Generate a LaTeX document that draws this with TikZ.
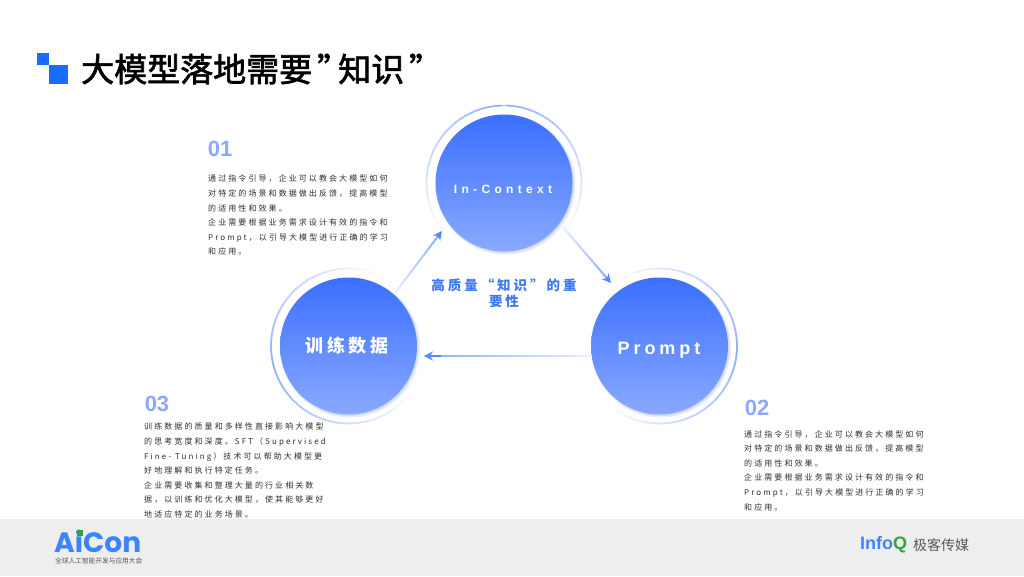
\documentclass[tikz,border=0pt]{standalone}
\usepackage{fontspec}
\usetikzlibrary{arrows.meta,calc}
\setmainfont{Liberation Sans}
\newfontfamily\cjk[LetterSpace=26]{Noto Sans CJK SC}
\newfontfamily\cjkwide[LetterSpace=22]{Noto Sans CJK SC}
\newfontfamily\cjktitle[FakeBold=2]{Noto Sans CJK SC}
\newfontfamily\cjkplain{Noto Sans CJK SC}
\newfontfamily\latinwide[LetterSpace=36]{Liberation Sans}
\newfontfamily\latinmid[LetterSpace=22]{Liberation Sans}
\newfontfamily\logofont{Poppins}
\definecolor{squareblue}{HTML}{1A6EFF}
\definecolor{topblue}{HTML}{3A6FFF}
\definecolor{lowblue}{HTML}{8AA9FF}
\definecolor{ringblue}{HTML}{8FB0FF}
\definecolor{glowblue}{HTML}{C4D3F5}
\definecolor{numblue}{HTML}{8AA9FF}
\definecolor{arrowblue}{HTML}{3E78F5}
\definecolor{palearrow}{HTML}{E6EEFF}
\definecolor{bodygrey}{HTML}{303030}
\definecolor{bandgrey}{HTML}{EEEEEE}
\definecolor{logogreen}{HTML}{2EA53C}
\tikzset{
  ball/.style={circle,minimum size=137pt,inner sep=0pt,top color=topblue,bottom color=lowblue,text=white},
  number/.style={text=numblue,font=\fontsize{22}{22}\selectfont\bfseries,inner sep=0pt},
  bodytext/.style={anchor=north west,align=left,inner sep=0pt,text=bodygrey,font=\fontsize{8}{14.6}\selectfont\cjk}
}
\newcommand{\fadearrow}[2]{
  \foreach \k in {0,5,...,85}{
    \pgfmathsetmacro{\ka}{\k/100}
    \pgfmathsetmacro{\kb}{(\k+6)/100}
    \pgfmathsetmacro{\kc}{\k*1.1}
    \draw[line width=2pt,ringblue!\kc!palearrow] ($(#1)!\ka!(#2)$) -- ($(#1)!\kb!(#2)$);
  }
  \draw[line width=2pt,arrowblue!70!ringblue,-{Stealth[length=9pt,width=9pt]}] ($(#1)!0.9!(#2)$) -- (#2);
}
\begin{document}
\begin{tikzpicture}[x=1pt,y=-1pt]
  \useasboundingbox (0,0) rectangle (1024,576);
  \fill[white] (0,0) rectangle (1024,576);
  \fill[bandgrey] (0,519) rectangle (1024,576);
  \fill[squareblue] (37,53) rectangle (49,65);
  \fill[squareblue] (49,65) rectangle (68,84);
  \node[anchor=west,inner sep=0pt,font=\fontsize{33}{33}\selectfont\cjktitle] (title) at (81,69) {大模型落地需要\hspace{5pt}”\hspace{-12pt}知识\hspace{5pt}”};
  \foreach \cx/\cy/\ang in {504/183/-90,348.5/346/165,659.5/346/5}{
    \foreach \d in {-130,-126,...,126}{
      \pgfmathsetmacro{\mix}{100*(1-abs(\d+2)/130)}
      \draw[line width=1.8pt,line cap=round,ringblue!\mix!white] ($(\cx,\cy)+(\ang+\d:77.5)$) -- ($(\cx,\cy)+(\ang+\d+4:77.5)$);
    }
    \fill[glowblue!35] (\cx+1.5,\cy+1.5) circle (70);
    \fill[glowblue!80] (\cx+1,\cy+1) circle (69);
  }
  \node[ball] (context) at (504,183) {};
  \node[ball] (train) at (348.5,346) {};
  \node[ball] (prompt) at (659.5,346) {};
  \node[text=white,inner sep=0pt,font=\fontsize{12}{12}\selectfont\bfseries\latinwide] (contextlabel) at (503,189) {In-Context};
  \node[text=white,inner sep=0pt,font=\fontsize{18}{18}\selectfont\bfseries\cjkwide] (trainlabel) at (347,346) {训练数据};
  \node[text=white,inner sep=0pt,font=\fontsize{18}{18}\selectfont\bfseries\latinmid] (promptlabel) at (659,350) {Prompt};
  \coordinate (a1) at (395,293);
  \coordinate (a2) at (442,231);
  \coordinate (b1) at (563,227);
  \coordinate (b2) at (611,283);
  \coordinate (c1) at (592,356);
  \coordinate (c2) at (424,356);
  \fadearrow{a1}{a2}
  \fadearrow{b1}{b2}
  \fadearrow{c1}{c2}
  \node[align=center,inner sep=0pt,text=arrowblue,font=\fontsize{13.5}{16}\selectfont\bfseries\cjkwide] (center) at (504,293) {高质量“知识”的重\\要性};
  \node[number] (n1) at (220,149) {01};
  \node[number] (n2) at (757,408) {02};
  \node[number] (n3) at (157,404) {03};
  \node[bodytext] (t1) at (208,175) {通过指令引导，企业可以教会大模型如何\\对特定的场景和数据做出反馈，提高模型\\的适用性和效果。\\企业需要根据业务需求设计有效的指令和\\Prompt，以引导大模型进行正确的学习\\和应用。};
  \node[bodytext] (t2) at (744,430) {通过指令引导，企业可以教会大模型如何\\对特定的场景和数据做出反馈，提高模型\\的适用性和效果。\\企业需要根据业务需求设计有效的指令和\\Prompt，以引导大模型进行正确的学习\\和应用。};
  \node[bodytext] (t3) at (144,423) {训练数据的质量和多样性直接影响大模型\\的思考宽度和深度。SFT（Supervised\\Fine- Tuning）技术可以帮助大模型更\\好地理解和执行特定任务。\\企业需要收集和整理大量的行业相关数\\据，以训练和优化大模型，使其能够更好\\地适应特定的业务场景。};
  \node[anchor=base west,inner sep=0pt,text height=20pt,text depth=0pt,text=squareblue!85!white,font=\fontsize{28}{28}\selectfont\logofont\bfseries] (aicon) at (54,552) {AiCon};
  \fill[logogreen] (76.5,530) rectangle (82.5,536);
  \node[anchor=west,inner sep=0pt,text=black!65,font=\fontsize{6.7}{7}\selectfont\cjkplain] (aicontext) at (55,561) {全球人工智能开发与应用大会};
  \node[anchor=west,inner sep=0pt,font=\fontsize{18}{18}\selectfont\bfseries] (infoq) at (860,545) {\textcolor{squareblue!85!white}{Info}\textcolor{logogreen}{Q}};
  \node[anchor=west,inner sep=0pt,text=black!65,font=\fontsize{14}{14}\selectfont\cjkplain] (jike) at (913,545) {极客传媒};
\end{tikzpicture}
\end{document}
